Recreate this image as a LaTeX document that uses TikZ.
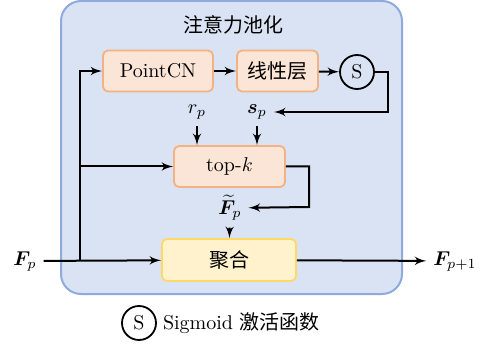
\documentclass[tikz,border=0pt]{standalone}
\usepackage{amsmath,bm}
\usepackage{fontspec}
\newfontfamily\cjk{Noto Sans CJK SC}
\usetikzlibrary{shapes,arrows,calc}
\definecolor{poolfill}{HTML}{DAE3F3}
\definecolor{poolline}{HTML}{8FAADC}
\definecolor{orangefill}{HTML}{FBE5D6}
\definecolor{orangeline}{HTML}{F4B183}
\definecolor{yellowfill}{HTML}{FFF2CC}
\definecolor{yellowline}{HTML}{FFD966}
\tikzstyle{line} = [draw, line width=1pt, -latex']
\tikzstyle{block} = [draw=orangeline, fill=orangefill, rectangle, rounded corners=2.5pt, line width=0.9pt, text centered, minimum height=20.5pt]
\tikzstyle{merge} = [block, draw=yellowline, fill=yellowfill]
\tikzstyle{sig} = [draw, circle, line width=0.9pt, minimum size=17pt, inner sep=0pt]
\tikzstyle{pool} = [draw=poolline, fill=poolfill, rectangle, rounded corners=10pt, line width=1pt]

\begin{document}
\begin{tikzpicture}[x=0.5pt, y=-0.5pt]
        \useasboundingbox (0,0) rectangle (481,347);
        \node[pool, minimum width=170.5pt, minimum height=146.5pt] (pool) at (231.5,147.5) {};
        \node (title) at (233,25) {\cjk 注意力池化};
        \node[block, minimum width=55pt] (pointcn) at (158,71) {PointCN};
        \node[block, minimum width=40.5pt] (linear) at (277.5,71) {\cjk 线性层};
        \node[sig] (sig) at (357,72) {S};
        \node (rp) at (197,112) {$r_p$};
        \node (sp) at (257,112) {$\bm{s}_p$};
        \node[block, minimum width=55.5pt] (topk) at (229.5,166.5) {top-$k$};
        \node (ftilde) at (230,208) {$\widetilde{\bm{F}}_p$};
        \node[merge, minimum width=67pt, minimum height=21pt] (merge) at (229,260) {\cjk 聚合};
        \node (fin) at (25,261) {$\bm{F}_p$};
        \node (fout) at (455,261) {$\bm{F}_{p+1}$};
        \coordinate (split) at (80,261);
        \coordinate (sigturn) at (388,112);
        \coordinate (topkturn) at (309,207);
        \path[line] (fin) -- (merge);
        \path[line] (split) |- (pointcn);
        \path[line] (split |- topk) -- (topk);
        \path[line] (pointcn) -- (linear);
        \path[line] (linear) -- (sig);
        \path[line] (sig.east) -| (sigturn) -- (sp);
        \path[line] (rp) -- (rp |- topk.north);
        \path[line] (sp) -- (sp |- topk.north);
        \path[line] (topk.east) -| (topkturn) -- (ftilde);
        \path[line] (ftilde) -- (merge);
        \path[line] (merge) -- (fout);
        % legend
        \node[sig] (legendsig) at (139,323) {S};
        \node[anchor=west] (legendtext) at (156,323) {Sigmoid {\cjk 激活函数}};
    \end{tikzpicture}
\end{document}
